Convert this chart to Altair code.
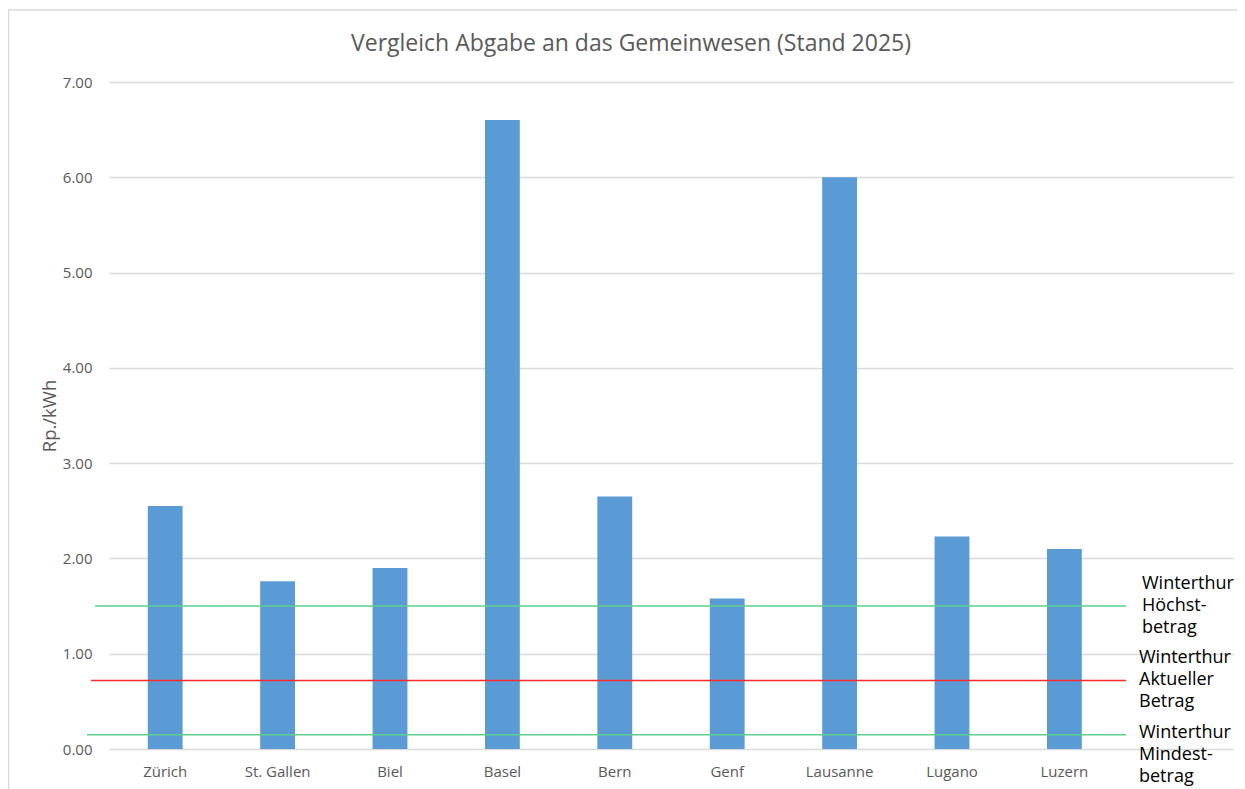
import altair as alt
import pandas as pd

# ---- data ----
title_text = "Vergleich Abgabe an das Gemeinwesen (Stand 2025)"
cities = ["Zürich", "St. Gallen", "Biel", "Basel", "Bern", "Genf", "Lausanne", "Lugano", "Luzern"]
values = [2.55, 1.76, 1.90, 6.60, 2.65, 1.58, 6.00, 2.23, 2.10]
ref_values = [1.50, 0.72, 0.15]
ref_colors = ["#5ccf8e", "#ff2a2a", "#5ccf8e"]
ref_labels = ["Winterthur\nHöchst-\nbetrag", "Winterthur\nAktueller\nBetrag", "Winterthur\nMindest-\nbetrag"]
y_ticks = [0, 1, 2, 3, 4, 5, 6, 7]
slots = cities + [" "]  # Excel category axis leaves one empty slot at the right

W, H = 1124, 667
FONT = "Open Sans"
GREY = "#595959"

bars_df = pd.DataFrame({"Stadt": cities, "Wert": values})
y_scale = alt.Scale(domain=[0, 7], nice=False)

x_enc = alt.X(
    "Stadt:N",
    sort=slots,
    scale=alt.Scale(domain=slots, paddingInner=0.69, paddingOuter=0.345),
    axis=alt.Axis(title=None, labelAngle=0, labelPadding=15, labelFontSize=15,
                  labelColor=GREY, labelFont=FONT, ticks=False, domain=False, grid=False),
)
y_enc = alt.Y(
    "Wert:Q",
    scale=y_scale,
    axis=alt.Axis(values=y_ticks, format=".2f", title="Rp./kWh", titleColor=GREY,
                  titleFontSize=18.5, titleFontWeight="normal", titleFont=FONT,
                  titleX=-60, titleY=H / 2, titleBaseline="middle", titleAlign="center",
                  labelPadding=17, labelFontSize=15, labelColor=GREY, labelFont=FONT,
                  grid=True, gridColor="#d9d9d9", gridWidth=1.3, ticks=False, domain=False),
)

bars = alt.Chart(bars_df).mark_bar(color="#5b9bd5").encode(x=x_enc, y=y_enc)

layers = [bars]

starts = [-14, -18, -22]
label_x = [1033, 1030, 1030]
label_dy = [-22, -22, -2]
for v, c, s, lab, lx, dy in zip(ref_values, ref_colors, starts, ref_labels, label_x, label_dy):
    rule = alt.Chart(pd.DataFrame({"v": [v]})).mark_rule(color=c, strokeWidth=1.5).encode(
        y=alt.Y("v:Q", scale=y_scale),
        x=alt.value(s), x2=alt.value(1017),
    )
    txt = alt.Chart(pd.DataFrame({"v": [v], "t": [lab]})).mark_text(
        align="left", baseline="middle", fontSize=18, lineHeight=22, font=FONT,
        color="black", lineBreak="\n", dy=dy,
    ).encode(
        y=alt.Y("v:Q", scale=y_scale),
        x=alt.value(lx), text="t:N",
    )
    layers += [rule, txt]

# chart title as a text mark centred like the reference
title = alt.Chart(pd.DataFrame({"t": [title_text]})).mark_text(
    align="center", baseline="middle", fontSize=23, font=FONT, color=GREY,
).encode(x=alt.value(522), y=alt.value(-38), text="t:N")
layers.append(title)

# chart-area border (top and left edges visible in the reference)
border_top = alt.Chart(pd.DataFrame({"a": [0]})).mark_rule(color="#d9d9d9", strokeWidth=1.5).encode(
    x=alt.value(-101), x2=alt.value(1140), y=alt.value(-72))
border_left = alt.Chart(pd.DataFrame({"a": [0]})).mark_rule(color="#d9d9d9", strokeWidth=1.5).encode(
    x=alt.value(-100.5), y=alt.value(-72), y2=alt.value(H + 40))
layers += [border_top, border_left]

chart = alt.layer(*layers).properties(
    width=W, height=H,
    autosize=alt.AutoSizeParams(type="none"),
    padding={"left": 101, "top": 74, "right": 4, "bottom": 40},
    background="white",
).configure_view(stroke=None)

chart.save("out.html", embed_options={"renderer": "svg", "actions": False})
